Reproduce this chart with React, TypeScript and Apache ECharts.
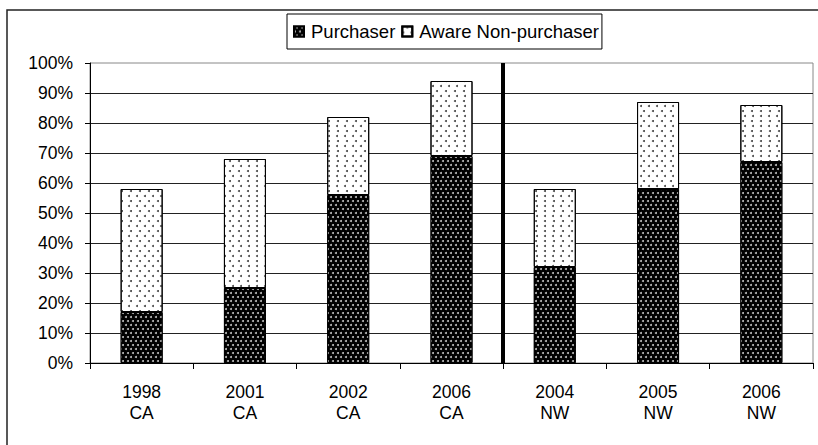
import React, { useEffect, useRef } from "react";
import * as echarts from "echarts";

const categories = ["1998\nCA", "2001\nCA", "2002\nCA", "2006\nCA", "2004\nNW", "2005\nNW", "2006\nNW"];
const purchaser = [17, 25, 56, 69, 32, 58, 67];
const awareNonPurchaser = [41, 43, 26, 25, 26, 29, 19];
const seriesNames = ["Purchaser", "Aware Non-purchaser"];
const yMin = 0;
const yMax = 100;
const yInterval = 10;
const dividerPosition = 4; // boundary between the CA and NW groups

const FONT = "Liberation Sans";

export default function App() {
  const ref = useRef<HTMLDivElement>(null);

  useEffect(() => {
    if (!ref.current) return;
    const chart = echarts.init(ref.current, undefined, { renderer: "svg" });
    chart.setOption({
      animation: false,
      backgroundColor: "#fff",
      graphic: [
        {
          type: "rect",
          shape: { x: 7, y: 10, width: 900, height: 600 },
          style: { fill: "none", stroke: "#222", lineWidth: 1.5 },
          silent: true,
        },
      ],
      legend: {
        data: seriesNames,
        left: 287,
        top: 14,
        orient: "horizontal",
        icon: "rect",
        itemWidth: 10,
        itemHeight: 10,
        itemGap: 6,
        padding: [8, 3, 8, 6],
        borderColor: "#000",
        borderWidth: 1,
        backgroundColor: "#fff",
        textStyle: { fontSize: 18.5, fontFamily: FONT, color: "#000", padding: [0, 0, 0, 2] },
      },
      grid: {
        left: 90,
        right: 5,
        top: 63,
        bottom: 82,
        show: true,
        borderColor: "#888",
        borderWidth: 1,
        backgroundColor: "transparent",
      },
      xAxis: [
        {
          type: "category",
          data: categories,
          boundaryGap: true,
          axisLine: { show: true, lineStyle: { color: "#000", width: 1 } },
          axisTick: { show: true, length: 6, interval: 0, lineStyle: { color: "#000" } },
          axisLabel: {
            interval: 0,
            fontSize: 17.5,
            fontFamily: FONT,
            color: "#000",
            lineHeight: 21,
            margin: 18,
          },
          splitLine: { show: false },
        },
        {
          type: "value",
          min: 0,
          max: categories.length,
          show: false,
        },
      ],
      yAxis: {
        type: "value",
        min: yMin,
        max: yMax,
        interval: yInterval,
        axisLine: { show: true, lineStyle: { color: "#000", width: 1 } },
        axisTick: { show: true, length: 5, lineStyle: { color: "#000" } },
        axisLabel: {
          formatter: "{value}%",
          fontSize: 17.5,
          fontFamily: FONT,
          color: "#000",
          margin: 17,
        },
        splitLine: { show: true, showMaxLine: false, lineStyle: { color: "#222", width: 1 } },
      },
      series: [
        {
          name: seriesNames[0],
          type: "bar",
          stack: "total",
          data: purchaser,
          barWidth: 42,
          itemStyle: {
            color: "#000",
            borderColor: "#000",
            borderWidth: 1,
            decal: {
              symbol: "circle",
              symbolSize: 1,
              color: "#bdbdbd",
              dashArrayX: [
                [1.2, 2.8],
                [0, 2, 1.2, 0.8],
              ],
              dashArrayY: [1.2, 1.8],
            },
          },
        },
        {
          name: seriesNames[1],
          type: "bar",
          stack: "total",
          data: awareNonPurchaser,
          barWidth: 42,
          itemStyle: {
            color: "#fff",
            borderColor: "#000",
            borderWidth: 1,
            decal: {
              symbol: "circle",
              symbolSize: 1,
              color: "#444",
              dashArrayX: [
                [1.5, 6],
                [0, 3.75, 1.5, 2.25],
              ],
              dashArrayY: [1.5, 2.3],
            },
          },
        },
        {
          name: "divider",
          type: "line",
          xAxisIndex: 1,
          yAxisIndex: 0,
          data: [],
          silent: true,
          markLine: {
            silent: true,
            symbol: "none",
            label: { show: false },
            lineStyle: { color: "#000", width: 4, type: "solid" },
            data: [{ xAxis: dividerPosition }],
          },
        },
      ],
    });
    return () => chart.dispose();
  }, []);

  return (
    <div
      ref={ref}
      style={{ position: "fixed", left: 0, top: 0, width: 818, height: 445 }}
    />
  );
}
